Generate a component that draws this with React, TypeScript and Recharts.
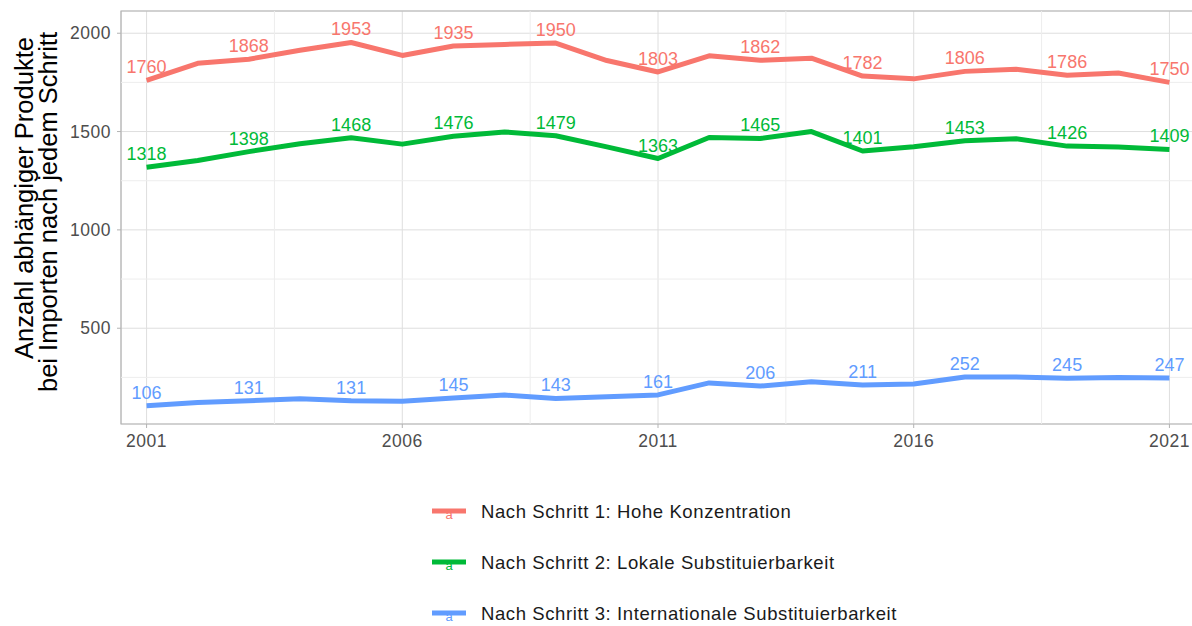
import { LineChart, Line, XAxis, YAxis, CartesianGrid, ReferenceLine, ReferenceArea, LabelList } from 'recharts';

const years = [2001, 2002, 2003, 2004, 2005, 2006, 2007, 2008, 2009, 2010, 2011, 2012, 2013, 2014, 2015, 2016, 2017, 2018, 2019, 2020, 2021];
const schritt1 = [1760, 1847, 1868, 1913, 1953, 1887, 1935, 1943, 1950, 1861, 1803, 1885, 1862, 1873, 1782, 1768, 1806, 1817, 1786, 1798, 1750];
const schritt2 = [1318, 1353, 1398, 1438, 1468, 1436, 1476, 1498, 1479, 1422, 1363, 1470, 1465, 1500, 1401, 1423, 1453, 1463, 1426, 1422, 1409];
const schritt3 = [106, 122, 131, 141, 131, 129, 145, 160, 143, 151, 161, 222, 206, 228, 211, 216, 252, 252, 245, 249, 247];

const xTicks = [2001, 2006, 2011, 2016, 2021];
const xMinor = [2003.5, 2008.5, 2013.5, 2018.5];
const yTicks = [500, 1000, 1500, 2000];
const yMinor = [250, 750, 1250, 1750];

const series = [
  { key: 's1', name: 'Nach Schritt 1: Hohe Konzentration', color: '#F8766D' },
  { key: 's2', name: 'Nach Schritt 2: Lokale Substituierbarkeit', color: '#00BA38' },
  { key: 's3', name: 'Nach Schritt 3: Internationale Substituierbarkeit', color: '#619CFF' },
];

const data = years.map((year, i) => ({ year, s1: schritt1[i], s2: schritt2[i], s3: schritt3[i] }));

const X_DOMAIN: [number, number] = [2000.5, 2021.5];
const Y_DOMAIN: [number, number] = [13, 2113];

// only every second year gets a value label
const makeLabel = (color: string) => (props: any) => {
  const { x, y, value, index } = props;
  if (index % 2 !== 0) return null;
  return (
    <text x={x} y={y - 13} fill={color} fontSize={18} textAnchor="middle" dominantBaseline="central">
      {value}
    </text>
  );
};

export default function App() {
  return (
    <div
      style={{
        position: 'absolute',
        left: 0,
        top: 0,
        width: 1192,
        height: 626,
        overflow: 'hidden',
        background: '#fff',
        fontFamily: '"Liberation Sans", Arial, sans-serif',
      }}
    >
      <LineChart width={1200} height={626} data={data} margin={{ top: 11, right: 5, bottom: 172, left: 0 }}>
        {xMinor.map(v => (
          <ReferenceLine key={'xm' + v} x={v} stroke="#EDEDED" strokeWidth={1} />
        ))}
        {yMinor.map(v => (
          <ReferenceLine key={'ym' + v} y={v} stroke="#EDEDED" strokeWidth={1} />
        ))}
        <CartesianGrid stroke="#DEDEDE" strokeWidth={1} />
        <XAxis
          dataKey="year"
          type="number"
          domain={X_DOMAIN}
          ticks={xTicks}
          allowDataOverflow
          axisLine={false}
          tickLine={{ stroke: '#B3B3B3' }}
          tickSize={4}
          tickMargin={7}
          height={30}
          tick={{ fill: '#4D4D4D', fontSize: 17.5, letterSpacing: 0.5 }}
        />
        <YAxis
          type="number"
          domain={Y_DOMAIN}
          ticks={yTicks}
          allowDataOverflow
          axisLine={false}
          tickLine={{ stroke: '#B3B3B3' }}
          tickSize={4}
          tickMargin={6}
          width={121}
          tick={{ fill: '#4D4D4D', fontSize: 17.5, letterSpacing: 0.5 }}
        />
        <ReferenceArea
          x1={X_DOMAIN[0]}
          x2={X_DOMAIN[1]}
          y1={Y_DOMAIN[0]}
          y2={Y_DOMAIN[1]}
          fill="none"
          stroke="#B3B3B3"
          strokeWidth={1.2}
          ifOverflow="visible"
        />
        {series.map(s => (
          <Line
            key={s.key}
            dataKey={s.key}
            stroke={s.color}
            strokeWidth={5}
            dot={false}
            strokeLinejoin="round"
            isAnimationActive={false}
          >
            <LabelList dataKey={s.key} content={makeLabel(s.color)} />
          </Line>
        ))}
      </LineChart>

      {/* y axis title, two lines */}
      <svg width={80} height={440} style={{ position: 'absolute', left: 0, top: 0 }}>
        <text x={33} y={198} transform="rotate(-90, 33, 198)" textAnchor="middle" fontSize={25.5} fill="#000">
          Anzahl abhängiger Produkte
        </text>
        <text x={56.5} y={212} transform="rotate(-90, 56.5, 212)" textAnchor="middle" fontSize={25.5} fill="#000">
          bei Importen nach jedem Schritt
        </text>
      </svg>

      {/* legend */}
      <svg width={1192} height={146} style={{ position: 'absolute', left: 0, top: 480 }}>
        {series.map((s, i) => {
          const cy = 31 + i * 51;
          return (
            <g key={s.key}>
              <text x={449} y={cy + 8} fontSize={13} fill={s.color} textAnchor="middle">a</text>
              <line x1={432} x2={466} y1={cy} y2={cy} stroke={s.color} strokeWidth={5} />
              <text
                x={481}
                y={cy}
                fontSize={18.5}
                letterSpacing={0.6}
                fill="#1A1A1A"
                dominantBaseline="central"
              >
                {s.name}
              </text>
            </g>
          );
        })}
      </svg>
    </div>
  );
}
